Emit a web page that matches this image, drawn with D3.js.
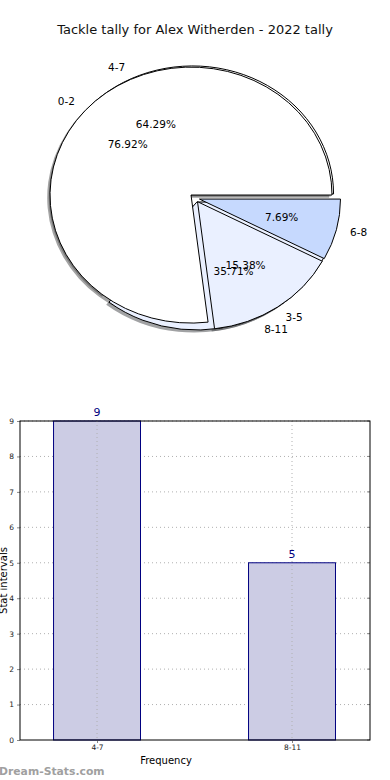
<!DOCTYPE html>
<html>
<head>
<meta charset="utf-8">
<script src="https://cdn.jsdelivr.net/npm/d3@7"></script>
<style>
  html, body { margin: 0; padding: 0; background: #fff; }
  svg { display: block; font-family: "DejaVu Sans", sans-serif; }
</style>
</head>
<body>
<svg id="chart" width="390" height="780"></svg>
<script>
// ---- data ----
const title = "Tackle tally for Alex Witherden - 2022 tally";
const pieACategories = ["4-7", "8-11"];
const pieAValues = [9, 5];
const pieBCategories = ["0-2", "3-5", "6-8"];
const pieBValues = [10, 2, 1];
const pieColors = ["#ffffff", "#eaf0ff", "#c6d9fe"];
const barCategories = ["4-7", "8-11"];
const barValues = [9, 5];
const yTicks = [0, 1, 2, 3, 4, 5, 6, 7, 8, 9];

(function () {
const svg = d3.select("#chart");

// ---- title ----
svg.append("text").attr("x", 195).attr("y", 34).attr("text-anchor", "middle")
  .attr("font-size", 13).attr("fill", "#111").text(title);

// ---- pies ----
const cx = 194.7, cy = 198, rx = 141, ry = 128, explode = 0.035;
const shadowDx = -2.8, shadowDy = 2.6;
const pieGen = d3.pie().sort(null).startAngle(Math.PI / 2).endAngle(Math.PI / 2 - 2 * Math.PI);
const arcGen = d3.arc().innerRadius(0).outerRadius(1);

function layout(cats, vals) {
  const total = d3.sum(vals);
  return pieGen(vals).map((a, i) => {
    const m = (a.startAngle + a.endAngle) / 2;
    const ux = Math.sin(m), uy = -Math.cos(m);
    return {
      arc: a, cat: cats[i], color: pieColors[i],
      pct: (vals[i] / total * 100).toFixed(2) + "%",
      ox: cx + explode * rx * ux, oy: cy + explode * ry * uy, ux, uy
    };
  });
}
const pieA = layout(pieACategories, pieAValues);
const pieB = layout(pieBCategories, pieBValues);

const shadowLayer = svg.append("g");
const wedgeLayer = svg.append("g");
const textLayer = svg.append("g");

function drawShadows(p) {
  p.forEach(d => {
    shadowLayer.append("path")
      .attr("transform", `translate(${d.ox + shadowDx},${d.oy + shadowDy}) scale(${rx},${ry})`)
      .attr("d", arcGen(d.arc))
      .attr("fill", d3.color(d.color).darker(3.5))
      .attr("fill-opacity", 0.5);
  });
}
function drawWedges(p) {
  p.forEach(d => {
    wedgeLayer.append("path")
      .attr("transform", `translate(${d.ox},${d.oy}) scale(${rx},${ry})`)
      .attr("d", arcGen(d.arc))
      .attr("fill", d.color)
      .attr("stroke", "#000")
      .attr("stroke-width", 1)
      .attr("vector-effect", "non-scaling-stroke")
      .attr("stroke-linejoin", "round");
  });
}
function drawTexts(p) {
  p.forEach(d => {
    const lx = d.ox + 1.1 * rx * d.ux, ly = d.oy + 1.1 * ry * d.uy;
    textLayer.append("text").attr("x", lx).attr("y", ly)
      .attr("dy", "0.35em")
      .attr("text-anchor", d.ux < 0 ? "end" : "start")
      .attr("font-size", 10.5).attr("fill", "#000").text(d.cat);
    const px = d.ox + 0.6 * rx * d.ux, py = d.oy + 0.6 * ry * d.uy;
    textLayer.append("text").attr("x", px).attr("y", py)
      .attr("dy", "0.35em").attr("text-anchor", "middle")
      .attr("font-size", 10.5).attr("fill", "#000").text(d.pct);
  });
}
drawShadows(pieA); drawShadows(pieB);
drawWedges(pieA); drawWedges(pieB);
drawTexts(pieA); drawTexts(pieB);

// ---- bar chart ----
const pLeft = 20, pRight = 370, pTop = 421, pBottom = 740;
const x = d3.scaleLinear().domain([-0.395, 1.4]).range([pLeft, pRight]);
const y = d3.scaleLinear().domain([0, 9]).range([pBottom, pTop]);
const barW = 0.446;
const g = svg.append("g");

// grid
g.append("g").selectAll("line").data(yTicks.slice(1)).join("line")
  .attr("x1", pLeft).attr("x2", pRight)
  .attr("y1", d => y(d)).attr("y2", d => y(d))
  .attr("stroke", "#b0b0b0").attr("stroke-width", 1).attr("stroke-dasharray", "1,3");

// bars
g.append("g").selectAll("rect").data(barValues).join("rect")
  .attr("x", (d, i) => x(i - barW / 2))
  .attr("width", (d, i) => x(i + barW / 2) - x(i - barW / 2))
  .attr("y", d => y(d))
  .attr("height", d => y(0) - y(d))
  .attr("fill", "#cccce4")
  .attr("stroke", "#000080").attr("stroke-width", 1);

// vertical grid on top of bars
g.append("g").selectAll("line").data(barCategories).join("line")
  .attr("x1", (d, i) => x(i)).attr("x2", (d, i) => x(i))
  .attr("y1", pTop).attr("y2", pBottom)
  .attr("stroke", "#b0b0b0").attr("stroke-width", 1).attr("stroke-dasharray", "1,3");

// value labels
g.append("g").selectAll("text").data(barValues).join("text")
  .attr("x", (d, i) => x(i)).attr("y", d => y(d) - 5)
  .attr("text-anchor", "middle").attr("font-size", 11).attr("fill", "#000080")
  .text(d => d);

// axes
const yAxis = d3.axisLeft(y).tickValues(yTicks).tickSize(3).tickPadding(3);
const yg = g.append("g").attr("transform", `translate(${pLeft},0)`).call(yAxis);
yg.select(".domain").remove();
yg.selectAll("text").attr("font-size", 7.5).attr("fill", "#222").attr("font-family", "DejaVu Sans");
yg.selectAll(".tick line").attr("stroke", "#888");

const xAxis = d3.axisBottom(x).tickValues([0, 1]).tickFormat((d, i) => barCategories[i]).tickSize(3).tickPadding(2);
const xg = g.append("g").attr("transform", `translate(0,${pBottom})`).call(xAxis);
xg.select(".domain").remove();
xg.selectAll("text").attr("font-size", 7.5).attr("fill", "#222").attr("font-family", "DejaVu Sans");
xg.selectAll(".tick line").attr("stroke", "#888");

// right side tick marks
g.append("g").selectAll("line").data(yTicks).join("line")
  .attr("x1", pRight - 3).attr("x2", pRight)
  .attr("y1", d => y(d)).attr("y2", d => y(d))
  .attr("stroke", "#888");

// frame
g.append("rect").attr("x", pLeft).attr("y", pTop)
  .attr("width", pRight - pLeft).attr("height", pBottom - pTop)
  .attr("fill", "none").attr("stroke", "#000").attr("stroke-width", 1);

// axis labels
svg.append("text").attr("x", 166).attr("y", 764).attr("text-anchor", "middle")
  .attr("font-size", 10).attr("fill", "#000").text("Frequency");
svg.append("text").attr("transform", `translate(7,${(pTop + pBottom) / 2}) rotate(-90)`)
  .attr("text-anchor", "middle").attr("font-size", 10).attr("fill", "#000").text("Stat intervals");

// watermark
svg.append("text").attr("x", -1).attr("y", 775)
  .attr("font-size", 10.8).attr("font-weight", "bold").attr("fill", "#a0a0a0")
  .text("Dream-Stats.com");
})();
</script>
</body>
</html>
